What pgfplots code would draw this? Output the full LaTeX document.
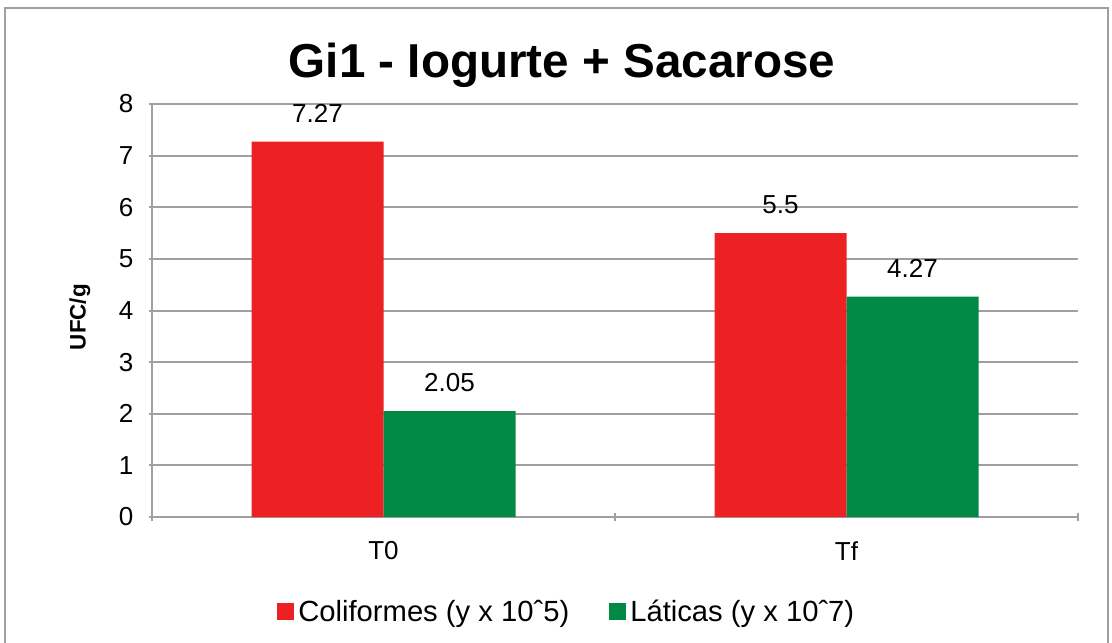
\documentclass[border=0pt]{standalone}
\usepackage{pgfplots}
\pgfplotsset{compat=1.18}
\usepackage{fontspec}
\setmainfont{Liberation Sans}
\definecolor{barred}{RGB}{237,32,36}
\definecolor{bargreen}{RGB}{0,138,69}
\definecolor{gridgray}{RGB}{160,160,160}
\begin{document}
\begin{tikzpicture}
\begin{axis}[
  scale only axis,
  width=463pt, height=206.5pt,
  ybar=0pt, bar width=66pt,
  xmin=-0.5, xmax=1.5,
  ymin=0, ymax=8,
  ytick={0,1,...,8},
  xtick={0,1}, xticklabels={T0,Tf},
  major x tick style={draw=none},
  minor xtick={-0.5,0.5,1.5},
  minor x tick style={draw=gridgray, line width=1pt},
  minor tick length=4pt,
  major tick length=3.5pt,
  tick align=outside,
  y tick style={draw=gridgray, line width=1pt},
  axis x line=bottom, axis y line=left,
  axis line style={draw=gridgray, line width=1pt, -},
  ymajorgrids,
  major grid style={draw=gridgray, line width=1pt},
  /pgf/number format/assume math mode=true,
  tick label style={font=\fontsize{13}{15}\selectfont},
  yticklabel style={xshift=-4pt},
  xticklabel style={yshift=-7pt},
  ylabel={UFC/g},
  ylabel style={at={(axis description cs:-0.078,0.484)}, anchor=center, font=\fontsize{11.2}{13}\selectfont\bfseries},
  nodes near coords,
  every node near coord/.append style={font=\fontsize{13}{15}\selectfont, black, yshift=6pt},
  point meta=explicit symbolic,
  legend style={at={(axis description cs:0.449,-0.23)}, anchor=center, draw=none,
    legend columns=2, font=\fontsize{14.6}{17}\selectfont,
    /tikz/every even column/.append style={column sep=18pt}},
  legend image code/.code={\fill[#1] (0pt,-4.25pt) rectangle (8.5pt,4.25pt);},
]
\addplot[draw=none, fill=barred] coordinates {(0,7.27) [7.27] (1,5.5) [5.5]};
\addplot[draw=none, fill=bargreen] coordinates {(0,2.05) [2.05] (1,4.27) [4.27]};
\legend{Coliformes (y x 10ˆ5), Láticas (y x 10ˆ7)}
\end{axis}
\node[anchor=base, font=\fontsize{23.8}{28}\selectfont\bfseries] at (205pt,219.5pt) {Gi1 - Iogurte + Sacarose};
\draw[gray!75, line width=1pt] (-73.5pt,-80pt) rectangle (478pt,254.5pt);
\pgfresetboundingbox
\path (-76pt,-62.5pt) rectangle (480pt,258.5pt);
\end{tikzpicture}
\end{document}
